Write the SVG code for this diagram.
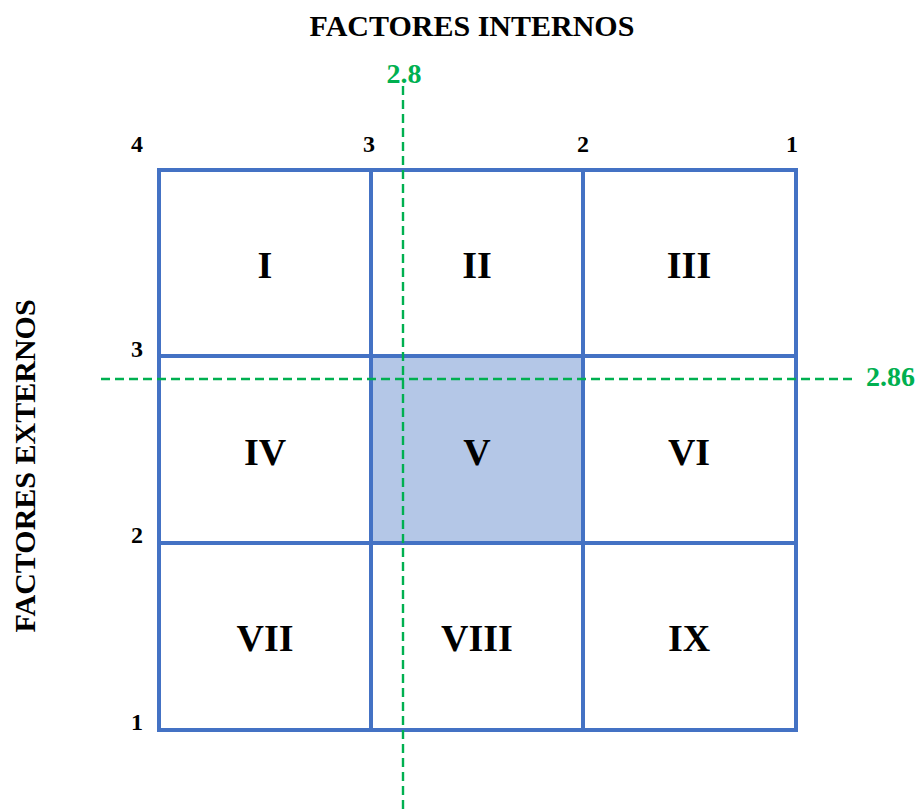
<svg xmlns="http://www.w3.org/2000/svg" width="923" height="810" viewBox="0 0 923 810">
<style>
text{font-family:"Liberation Serif","Times New Roman",serif;font-weight:bold;}
.t{font-size:30px;fill:#000;}
.n{font-size:24px;fill:#000;}
.r{font-size:38px;fill:#000;text-anchor:middle;}
.g{font-size:28px;fill:#00B050;}
.cell{fill:none;stroke:#4472C4;stroke-width:4;}
.dash{stroke:#00B050;stroke-width:2.4;stroke-dasharray:9 5;fill:none;}
</style>
<rect width="923" height="810" fill="#fff"/>
<text class="t" x="472" y="36" text-anchor="middle">FACTORES INTERNOS</text>
<text class="t" transform="translate(35,466) rotate(-90)" text-anchor="middle">FACTORES EXTERNOS</text>
<g id="axis-x">
<text class="n" x="137" y="152" text-anchor="middle">4</text>
<text class="n" x="369" y="152" text-anchor="middle">3</text>
<text class="n" x="583" y="152" text-anchor="middle">2</text>
<text class="n" x="792" y="152" text-anchor="middle">1</text>
</g>
<g id="axis-y">
<text class="n" x="137" y="357" text-anchor="middle">3</text>
<text class="n" x="137" y="543" text-anchor="middle">2</text>
<text class="n" x="137" y="730" text-anchor="middle">1</text>
</g>
<g id="cell-I"><rect class="cell" x="159" y="170" width="212" height="186"/><text class="r" x="265" y="278">I</text></g>
<g id="cell-II"><rect class="cell" x="371" y="170" width="212" height="186"/><text class="r" x="477" y="278">II</text></g>
<g id="cell-III"><rect class="cell" x="583" y="170" width="213" height="186"/><text class="r" x="689" y="278">III</text></g>
<g id="cell-IV"><rect class="cell" x="159" y="356" width="212" height="187"/><text class="r" x="265" y="465">IV</text></g>
<g id="cell-V"><rect class="cell" x="371" y="356" width="212" height="187" style="fill:#B4C7E7"/><text class="r" x="477" y="465">V</text></g>
<g id="cell-VI"><rect class="cell" x="583" y="356" width="213" height="187"/><text class="r" x="689" y="465">VI</text></g>
<g id="cell-VII"><rect class="cell" x="159" y="543" width="212" height="187"/><text class="r" x="265" y="651">VII</text></g>
<g id="cell-VIII"><rect class="cell" x="371" y="543" width="212" height="187"/><text class="r" x="477" y="651">VIII</text></g>
<g id="cell-IX"><rect class="cell" x="583" y="543" width="213" height="187"/><text class="r" x="689" y="651">IX</text></g>
<g id="connectors">
<line class="dash" x1="403" y1="86" x2="403" y2="810"/>
<line class="dash" x1="101" y1="379" x2="857" y2="379"/>
</g>
<text class="g" x="404" y="83" text-anchor="middle">2.8</text>
<text class="g" x="866" y="386">2.86</text>
</svg>
